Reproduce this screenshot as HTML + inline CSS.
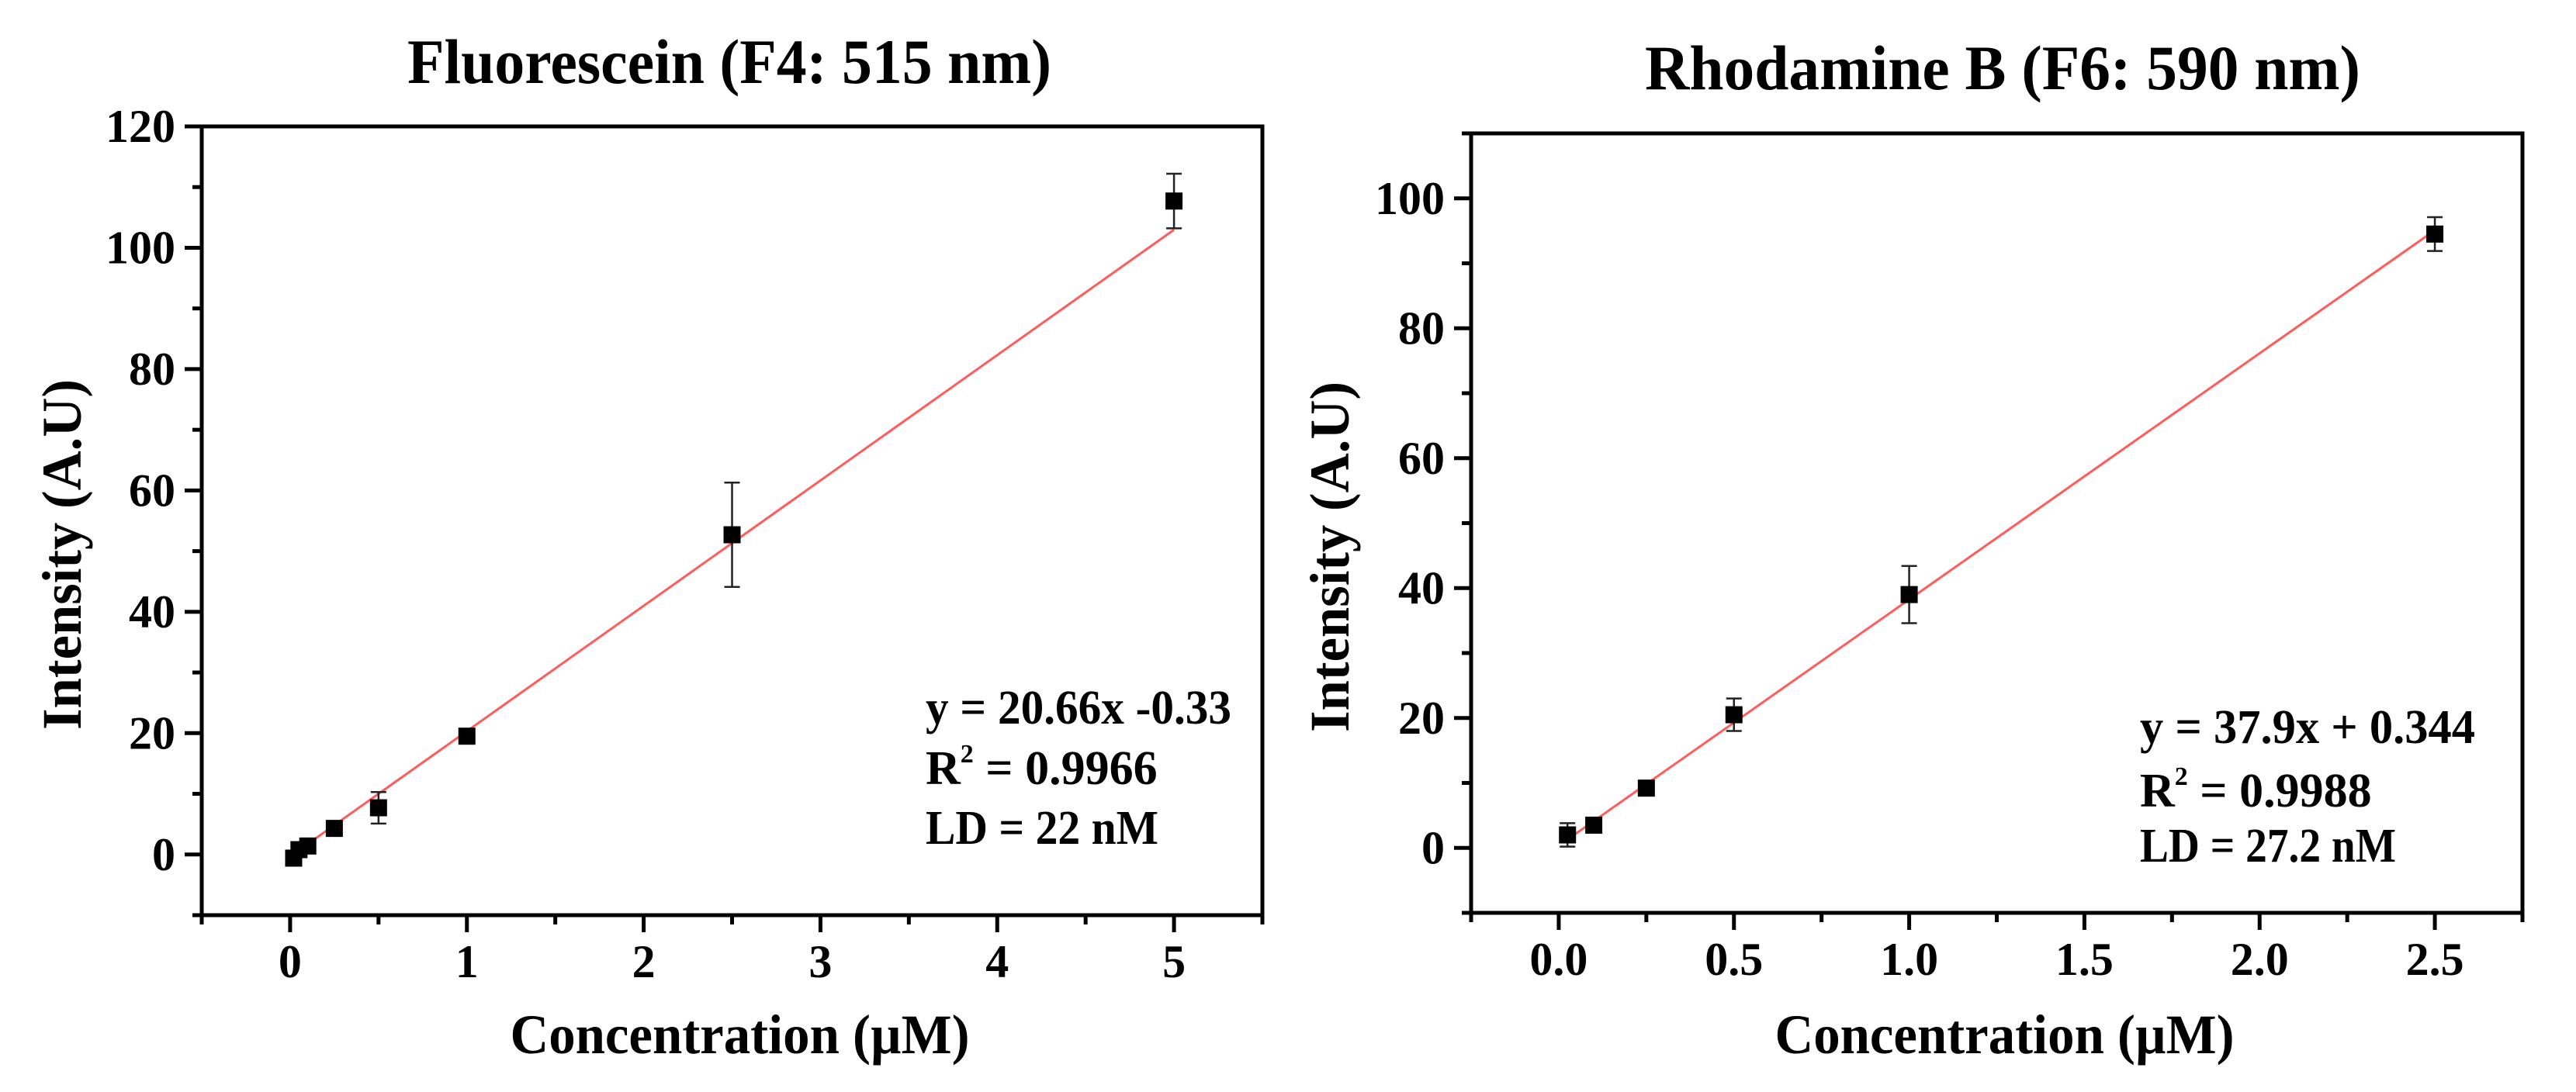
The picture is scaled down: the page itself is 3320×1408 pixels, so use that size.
<!DOCTYPE html>
<html><head><meta charset="utf-8"><style>
html,body{margin:0;padding:0;background:#fff;}
svg{display:block;}
text{font-family:"Liberation Serif",serif;font-weight:bold;fill:#000;}
</style></head><body>
<svg id="fig" width="3320" height="1408" viewBox="0 0 3320 1408" xmlns="http://www.w3.org/2000/svg">
<rect width="3320" height="1408" fill="#fff"/>
</svg>
<script>
// ---- Left panel data (Fluorescein)
const fluoX = [0.02, 0.05, 0.1, 0.25, 0.5, 1, 2.5, 5];
const fluoY = [-0.6, 0.8, 1.4, 4.3, 7.7, 19.5, 52.7, 107.7];
const fluoErr = [1.0, 0.8, 0.6, 0.8, 2.6, 0.7, 8.6, 4.5];
const fluoFit = [20.66, -0.33];
const fluoXTicks = [0, 1, 2, 3, 4, 5];
const fluoYTicks = [0, 20, 40, 60, 80, 100, 120];
const fluoAnno = ["y = 20.66x -0.33", "R", " = 0.9966", "LD = 22 nM"];
// ---- Right panel data (Rhodamine B)
const rhoX = [0.025, 0.1, 0.25, 0.5, 1, 2.5];
const rhoY = [2.0, 3.5, 9.2, 20.5, 39.0, 94.5];
const rhoErr = [1.8, 0.9, 0.6, 2.5, 4.4, 2.6];
const rhoFit = [37.9, 0.344];
const rhoXTicks = [0.0, 0.5, 1.0, 1.5, 2.0, 2.5];
const rhoYTicks = [0, 20, 40, 60, 80, 100];

const NS = "http://www.w3.org/2000/svg";
const svg = document.getElementById('fig');
function mk(tag, attrs, parent, txt){
  const e = document.createElementNS(NS, tag);
  for (const k in attrs) e.setAttribute(k, attrs[k]);
  if (txt !== undefined) e.textContent = txt;
  (parent||svg).appendChild(e);
  return e;
}

function panel(cfg){
  const g = mk('g', {});
  
  
  const sx = v => cfg.L + (v - cfg.x0) / (cfg.x1 - cfg.x0) * (cfg.R - cfg.L);
  const sy = v => cfg.B - (v - cfg.y0) / (cfg.y1 - cfg.y0) * (cfg.B - cfg.T);
  const fr = mk('rect', {x:cfg.L, y:cfg.T, width:cfg.R-cfg.L, height:cfg.B-cfg.T, fill:'none', stroke:'#000', 'stroke-width':5}, g);
  
  
  for (let v = cfg.x0; v <= cfg.x1 + 1e-9; v += cfg.xMinor) {
    const major = cfg.xTicks.some(t => Math.abs(t - v) < 1e-6);
    const t = mk('line', {x1:sx(v), x2:sx(v), y1:cfg.B, y2:cfg.B + (major?22:12), stroke:'#000', 'stroke-width':5}, g);
    
    
  }
  cfg.xTicks.forEach(v => {
    const t = mk('text', {x:sx(v), y:cfg.B+80, 'font-size':60, 'text-anchor':'middle'}, g, cfg.xFmt(v));
    
    
  });
  for (let v = cfg.y0; v <= cfg.y1 + 1e-9; v += 10) {
    const major = cfg.yTicks.some(t => Math.abs(t - v) < 1e-6);
    const t = mk('line', {x1:cfg.L, x2:cfg.L - (major?22:12), y1:sy(v), y2:sy(v), stroke:'#000', 'stroke-width':5}, g);
    
    
  }
  cfg.yTicks.forEach(v => {
    const t = mk('text', {x:cfg.yLabelRight, y:sy(v)+20, 'font-size':60, 'text-anchor':'end'}, g, String(v));
    
    
  });
  const xa = cfg.xs[0], xb = cfg.xs[cfg.xs.length-1];
  const fit = mk('line', {x1:sx(xa), y1:sy(cfg.fit[0]*xa+cfg.fit[1]), x2:sx(xb), y2:sy(cfg.fit[0]*xb+cfg.fit[1]), stroke:'#ff5c5c', 'stroke-width':3}, g);
  
  
  cfg.xs.forEach((xv, i) => {
    const cx = sx(xv), cy = sy(cfg.ys[i]);
    const e1 = sy(cfg.ys[i] + cfg.err[i]), e2 = sy(cfg.ys[i] - cfg.err[i]);
    const eb = mk('path', {d:`M${cx},${e1}V${e2}M${cx-10},${e1}H${cx+10}M${cx-10},${e2}H${cx+10}`, stroke:'#222', 'stroke-width':2.5, fill:'none'}, g);
    
    
    const p = mk('rect', {x:cx-11, y:cy-11, width:22, height:22, fill:'#000'}, g);
    
    
  });
  const tt = mk('text', {x:cfg.titleX, y:cfg.titleY, 'font-size':82, 'text-anchor':'middle', textLength:cfg.titleW, lengthAdjust:'spacingAndGlyphs'}, g, cfg.title);
  
  
  const xt = mk('text', {x:(cfg.L+cfg.R)/2 + cfg.xTitleDx, y:1358, 'font-size':72, 'text-anchor':'middle', textLength:592, lengthAdjust:'spacingAndGlyphs'}, g, 'Concentration (\u00b5M)');
  
  
  const yt = mk('text', {x:0, y:0, 'font-size':72, 'text-anchor':'middle', textLength:452, lengthAdjust:'spacingAndGlyphs', transform:`translate(${cfg.yTitleX},${cfg.yTitleY}) rotate(-90)`}, g, 'Intensity (A.U)');
  
  
  const an = mk('g', {}, g);
  
  
  cfg.anno(an);
}

panel({name:'fluorescein-panel', L:260, R:1627, T:163, B:1180, x0:-0.5, x1:5.5, y0:-10, y1:120, xMinor:0.5,
  xTicks:fluoXTicks, yTicks:fluoYTicks, xFmt:v=>String(v), yLabelRight:226,
  xs:fluoX, ys:fluoY, err:fluoErr, fit:fluoFit,
  title:'Fluorescein (F4: 515 nm)', titleX:940, titleY:107, titleW:830, xTitleDx:10, yTitleX:104, yTitleY:715,
  anno:(an)=>{
    mk('text', {x:1193, y:933, 'font-size':62, textLength:394, lengthAdjust:'spacingAndGlyphs'}, an, fluoAnno[0]);
    const t = mk('text', {x:1193, y:1011, 'font-size':62}, an);
    mk('tspan', {}, t, fluoAnno[1]);
    mk('tspan', {dy:-28, 'font-size':34}, t, '2');
    mk('tspan', {dy:28}, t, fluoAnno[2]);
    mk('text', {x:1193, y:1088, 'font-size':62, textLength:300, lengthAdjust:'spacingAndGlyphs'}, an, fluoAnno[3]);
  }});

panel({name:'rhodamine-panel', L:1896, R:3251, T:172, B:1177, x0:-0.25, x1:2.75, y0:-10, y1:110, xMinor:0.25,
  xTicks:rhoXTicks, yTicks:rhoYTicks, xFmt:v=>v.toFixed(1), yLabelRight:1862,
  xs:rhoX, ys:rhoY, err:rhoErr, fit:rhoFit,
  title:'Rhodamine B (F6: 590 nm)', titleX:2581, titleY:115, titleW:922, xTitleDx:10, yTitleX:1738, yTitleY:718,
  anno:(an)=>{
    mk('text', {x:2758, y:958, 'font-size':62, textLength:432, lengthAdjust:'spacingAndGlyphs'}, an, 'y = 37.9x + 0.344');
    const t = mk('text', {x:2758, y:1040, 'font-size':62}, an);
    mk('tspan', {}, t, 'R');
    mk('tspan', {dy:-28, 'font-size':34}, t, '2');
    mk('tspan', {dy:28}, t, ' = 0.9988');
    mk('text', {x:2758, y:1111, 'font-size':62, textLength:330, lengthAdjust:'spacingAndGlyphs', 'xml:space':'preserve'}, an, 'LD =  27.2 nM');
  }});
</script>
</body></html>
